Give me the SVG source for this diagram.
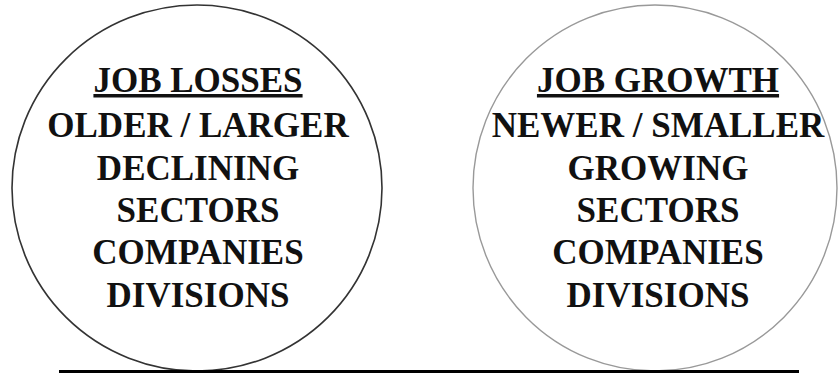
<svg xmlns="http://www.w3.org/2000/svg" width="838" height="373" viewBox="0 0 838 373">
<style>
.t{font-family:"Liberation Serif","Times New Roman",serif;font-weight:bold;font-size:35px;fill:#111;text-anchor:middle}
.u{text-decoration:underline}
</style>
<rect width="838" height="373" fill="#fff"/>
<g id="losses">
<ellipse cx="197" cy="188" rx="185" ry="183" fill="none" stroke="#333" stroke-width="1.6"/>
<text class="t u" x="198" y="92">JOB LOSSES</text>
<text class="t" x="198" y="137">OLDER / LARGER</text>
<text class="t" x="198" y="180">DECLINING</text>
<text class="t" x="198" y="222">SECTORS</text>
<text class="t" x="198" y="264">COMPANIES</text>
<text class="t" x="198" y="307">DIVISIONS</text>
</g>
<g id="growth">
<ellipse cx="655" cy="188" rx="182" ry="183" fill="none" stroke="#999" stroke-width="1.4"/>
<text class="t u" x="658" y="92">JOB GROWTH</text>
<text class="t" x="658" y="137">NEWER / SMALLER</text>
<text class="t" x="658" y="180">GROWING</text>
<text class="t" x="658" y="222">SECTORS</text>
<text class="t" x="658" y="264">COMPANIES</text>
<text class="t" x="658" y="307">DIVISIONS</text>
</g>
<g id="connectors">
<line x1="59" y1="371.5" x2="799" y2="371.5" stroke="#000" stroke-width="3"/>
</g>
</svg>
